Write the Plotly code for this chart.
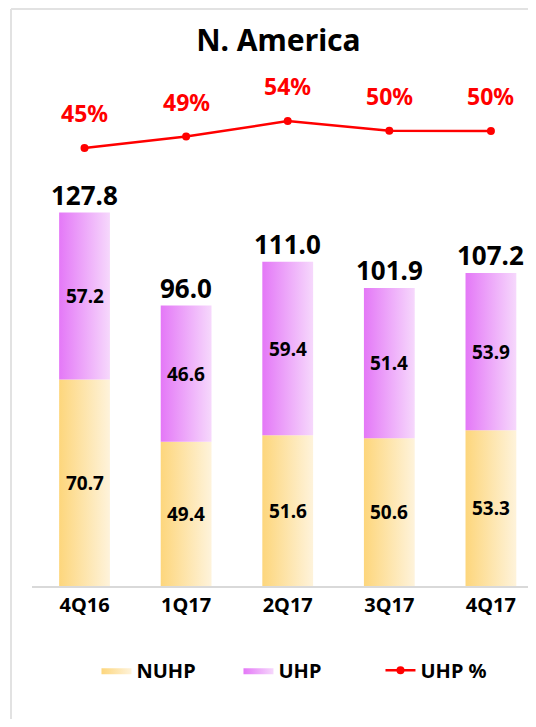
import plotly.graph_objects as go

quarters = ["4Q16", "1Q17", "2Q17", "3Q17", "4Q17"]
nuhp = [70.7, 49.4, 51.6, 50.6, 53.3]
uhp = [57.2, 46.6, 59.4, 51.4, 53.9]
totals = [127.8, 96.0, 111.0, 101.9, 107.2]
uhp_pct = [44.8, 48.5, 53.5, 50.4, 50.3]
pct_labels = ["45%", "49%", "54%", "50%", "50%"]

FONT = "Noto Sans"
half = 0.25
yellow = [[0, "#fdd67c"], [1, "#fef3db"]]
purple = [[0, "#e478f7"], [1, "#f6d8fc"]]

fig = go.Figure()


def add_segments(name, vals, bases, scale):
    for i, (v, b) in enumerate(zip(vals, bases)):
        fig.add_trace(go.Scatter(
            x=[i - half, i + half, i + half, i - half, i - half],
            y=[b, b, b + v, b + v, b],
            mode="lines",
            fill="toself",
            fillgradient=dict(type="horizontal", colorscale=scale),
            line=dict(width=0),
            name="<b>%s</b>" % name,
            legendgroup=name,
            showlegend=(i == 0),
            hoverinfo="skip"))
        fig.add_annotation(x=i, y=b + v / 2, text="<b>%.1f</b>" % v,
                           showarrow=False, font=dict(size=19, color="black", family=FONT))


add_segments("NUHP", nuhp, [0] * len(nuhp), yellow)
add_segments("UHP", uhp, nuhp, purple)

for i, t in enumerate(totals):
    fig.add_annotation(x=i, y=t, text="<b>%.1f</b>" % t, yanchor="bottom", yshift=-2,
                       showarrow=False, font=dict(size=26, color="black", family=FONT))

fig.add_trace(go.Scatter(
    x=list(range(len(quarters))),
    y=uhp_pct,
    name="<b>UHP %</b>",
    mode="lines+markers",
    yaxis="y2",
    line=dict(color="#ff0000", width=2.5),
    marker=dict(color="#ff0000", size=8)))

for i, (p, lab) in enumerate(zip(uhp_pct, pct_labels)):
    fig.add_annotation(x=i, y=p, yref="y2", text="<b>%s</b>" % lab, yshift=35,
                       showarrow=False, font=dict(size=23, color="#ff0000", family=FONT))

# light frame (left and top edges) around the panel
frame = dict(color="#e2e2e2", width=2)
fig.add_shape(type="line", xref="paper", yref="paper",
              x0=-0.0423, x1=-0.0423, y0=-0.5, y1=1.097, line=frame, layer="below")
fig.add_shape(type="line", xref="paper", yref="paper",
              x0=-0.0423, x1=1.1, y0=1.097, y1=1.097, line=frame, layer="below")

fig.update_layout(
    width=520, height=711,
    margin=dict(l=24, r=0, t=52, b=133),
    paper_bgcolor="white", plot_bgcolor="white",
    font=dict(family=FONT, color="black"),
    title=dict(text="<b>N. America</b>", x=0.52, xanchor="center",
               y=1 - 32 / 711, yanchor="middle", yref="container",
               font=dict(size=30, family=FONT, color="black")),
    xaxis=dict(range=[-0.517, 4.365], tickvals=list(range(len(quarters))),
               ticktext=["<b>%s</b>" % q for q in quarters],
               tickfont=dict(size=20, family=FONT, color="black"),
               showgrid=False, zeroline=False, showline=True,
               linecolor="#d9d9d9", linewidth=2, ticks=""),
    yaxis=dict(range=[0, 180.1], visible=False, showgrid=False, zeroline=False),
    yaxis2=dict(range=[-96.5, 73.2], overlaying="y", visible=False,
                showgrid=False, zeroline=False),
    legend=dict(orientation="h", x=0.13, xanchor="left", y=-0.16, yanchor="middle",
                entrywidth=97, font=dict(size=20, family=FONT, color="black")),
    showlegend=True,
)

fig.write_html("out.html")
